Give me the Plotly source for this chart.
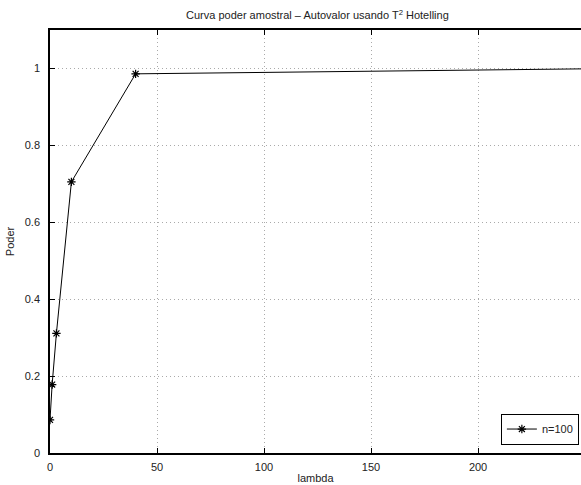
import plotly.graph_objects as go

lambda_vals = [0, 1, 3, 10, 40, 250]
poder = [0.086, 0.178, 0.311, 0.705, 0.986, 0.999]
series_name = "n=100"
x_ticks = [0, 50, 100, 150, 200, 250]
y_ticks = [0, 0.2, 0.4, 0.6, 0.8, 1]
y_tick_text = ["0", "0.2", "0.4", "0.6", "0.8", "1"]

fig = go.Figure()
fig.add_trace(go.Scatter(
    x=lambda_vals, y=poder, mode="lines+markers", name=series_name,
    line=dict(color="black", width=1),
    marker=dict(symbol="asterisk-open", size=7, color="black",
                line=dict(color="black", width=1.2)),
))
# invisible copy bound to the top axis so the top box edge gets drawn
fig.add_trace(go.Scatter(
    x=lambda_vals, y=poder, mode="lines", xaxis="x2", showlegend=False,
    hoverinfo="skip", line=dict(width=0, color="rgba(0,0,0,0)"),
))

font = dict(family="Liberation Sans, Arial, sans-serif", size=11, color="#222")
fig.update_layout(
    width=581, height=485,
    margin=dict(l=50, r=0, t=30, b=32, autoexpand=False),
    paper_bgcolor="white", plot_bgcolor="white",
    font=font,
    title=dict(text="Curva poder amostral – Autovalor usando T<sup>2</sup> Hotelling",
               x=0.5036, xref="paper", xanchor="center", y=0.968, yanchor="middle",
               font=dict(size=11)),
    showlegend=True,
    legend=dict(x=0.996, y=0.02, xanchor="right", yanchor="bottom",
                bgcolor="white", bordercolor="black", borderwidth=1,
                font=dict(size=11), itemwidth=30, tracegroupgap=0),
    xaxis2=dict(overlaying="x", side="top", anchor="y", matches="x",
                range=[0, 248.1], tickvals=x_ticks, showticklabels=False,
                ticks="inside", ticklen=5, tickcolor="black",
                showline=True, linecolor="black", linewidth=1.5,
                showgrid=False, zeroline=False, automargin=False),
)
fig.update_xaxes(selector=dict(anchor="y", overlaying=None))
fig.layout.xaxis.update(
    range=[0, 248.1], tickvals=x_ticks, ticks="inside", ticklen=5,
    tickcolor="black", showline=True, linecolor="black", linewidth=1.5,
    mirror="ticks", showgrid=True, gridcolor="#aaa", griddash="1px,3px",
    gridwidth=1, zeroline=False,
    title=dict(text="lambda", standoff=2, font=dict(size=11)),
    ticklabelstandoff=3, automargin=False,
)
fig.update_yaxes(
    range=[0, 1.1], tickvals=y_ticks, ticktext=y_tick_text, ticks="inside",
    ticklen=5, tickcolor="black", showline=True, linecolor="black",
    linewidth=1.5, mirror=False, showgrid=True, gridcolor="#aaa",
    griddash="1px,3px", gridwidth=1, zeroline=False,
    title=dict(text="Poder", standoff=8, font=dict(size=11)), ticklabelstandoff=6,
    automargin=False,
)
fig.write_html("out.html", post_script="document.body.style.margin='0px';",
               config={"displayModeBar": False})
